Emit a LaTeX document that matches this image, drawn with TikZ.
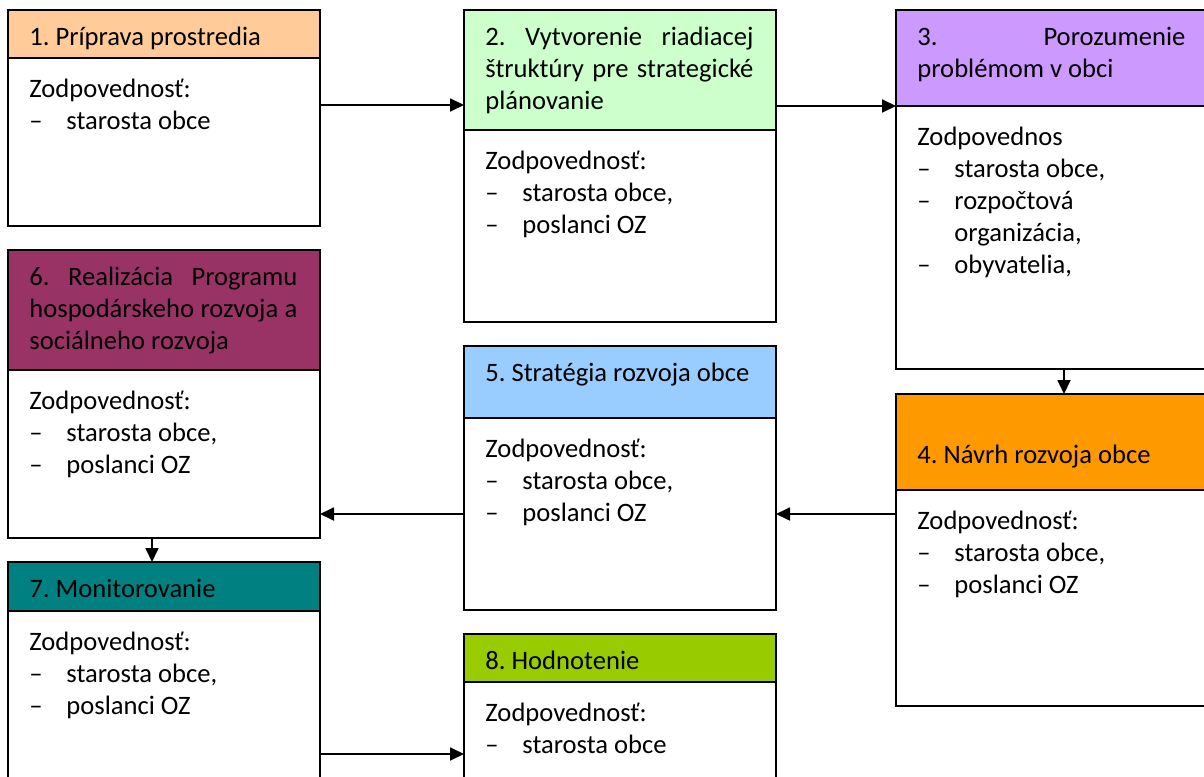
\documentclass[tikz,border=0pt]{standalone}
\usepackage{fontspec}
\setmainfont{Carlito}
\usetikzlibrary{arrows.meta}
\usetikzlibrary{positioning}

\frenchspacing

\definecolor{krok1}{HTML}{FFCC99}
\definecolor{krok2}{HTML}{CCFFCC}
\definecolor{krok3}{HTML}{CC99FF}
\definecolor{krok4}{HTML}{FF9900}
\definecolor{krok5}{HTML}{99CCFF}
\definecolor{krok6}{HTML}{993366}
\definecolor{krok7}{HTML}{008080}
\definecolor{krok8}{HTML}{99CC00}

% one line of the list: dash, then text; the second macro continues an item
\newcommand{\polozka}[1]{\par\noindent\makebox[18.5pt][l]{–}#1}
\newcommand{\pokracuj}[1]{\par\noindent\hspace*{18.5pt}#1}

\tikzset{
    hlava/.style={draw, line width=0.9pt, anchor=north west, minimum width=156pt, inner sep=0pt, outer sep=0pt},
    telo/.style={draw, line width=0.9pt, fill=white, minimum width=156pt, inner sep=0pt, outer sep=0pt},
    popis/.style={anchor=north west, inner sep=0pt, text width=134pt, font=\fontsize{13.3}{16}\selectfont},
    nadpis/.style={popis, align=justify},
    zoznam/.style={popis, align=flush left},
    sipka/.style={line width=0.9pt, -{Triangle[length=7pt,width=6.5pt]}}
}

\begin{document}
\begin{tikzpicture}[x=0.5pt, y=-0.5pt]
    \useasboundingbox (0,0) rectangle (1204,776);

    % 1
    \node[hlava, fill=krok1, minimum height=24pt] (h1) at (8,10) {};
    \node[telo, minimum height=84pt, below=0pt of h1] (b1) {};
    \node[nadpis] (t1h) at ([xshift=10.5pt,yshift=-6.3pt]h1.north west) {\strut 1. Príprava prostredia};
    \node[zoznam] (t1b) at ([xshift=10.5pt,yshift=-8.3pt]b1.north west) {\strut Zodpovednosť:\polozka{starosta obce}};

    % 2
    \node[hlava, fill=krok2, minimum height=60pt] (h2) at (464,10) {};
    \node[telo, minimum height=96pt, below=0pt of h2] (b2) {};
    \node[nadpis] (t2h) at ([xshift=10.5pt,yshift=-6.3pt]h2.north west) {\strut 2. Vytvorenie riadiacej\linebreak štruktúry pre strategické\linebreak plánovanie};
    \node[zoznam] (t2b) at ([xshift=10.5pt,yshift=-8.3pt]b2.north west) {\strut Zodpovednosť:\polozka{starosta obce,}\polozka{poslanci OZ}};

    % 3
    \node[hlava, fill=krok3, minimum height=48pt] (h3) at (896,10) {};
    \node[telo, minimum height=131.5pt, below=0pt of h3] (b3) {};
    \node[nadpis] (t3h) at ([xshift=10.5pt,yshift=-6.3pt]h3.north west) {\strut 3. Porozumenie\linebreak problémom v obci};
    \node[zoznam] (t3b) at ([xshift=10.5pt,yshift=-8.3pt]b3.north west) {\strut Zodpovednos\polozka{starosta obce,}\polozka{rozpočtová}\pokracuj{organizácia,}\polozka{obyvatelia,}};

    % 4
    \node[hlava, fill=krok4, minimum height=48pt] (h4) at (896,394) {};
    \node[telo, minimum height=108pt, below=0pt of h4] (b4) {};
    \node[nadpis] (t4h) at ([xshift=10.5pt,yshift=-7.3pt]h4.north west) {\strut\\4. Návrh rozvoja obce};
    \node[zoznam] (t4b) at ([xshift=10.5pt,yshift=-8.3pt]b4.north west) {\strut Zodpovednosť:\polozka{starosta obce,}\polozka{poslanci OZ}};

    % 5
    \node[hlava, fill=krok5, minimum height=36pt] (h5) at (464,346) {};
    \node[telo, minimum height=96pt, below=0pt of h5] (b5) {};
    \node[nadpis] (t5h) at ([xshift=10.5pt,yshift=-6.3pt]h5.north west) {\strut 5. Stratégia rozvoja obce};
    \node[zoznam] (t5b) at ([xshift=10.5pt,yshift=-8.3pt]b5.north west) {\strut Zodpovednosť:\polozka{starosta obce,}\polozka{poslanci OZ}};

    % 6
    \node[hlava, fill=krok6, minimum height=60pt] (h6) at (8,250) {};
    \node[telo, minimum height=84pt, below=0pt of h6] (b6) {};
    \node[nadpis] (t6h) at ([xshift=10.5pt,yshift=-6.3pt]h6.north west) {\strut 6. Realizácia Programu\linebreak hospodárskeho rozvoja a\linebreak sociálneho rozvoja};
    \node[zoznam] (t6b) at ([xshift=10.5pt,yshift=-8.3pt]b6.north west) {\strut Zodpovednosť:\polozka{starosta obce,}\polozka{poslanci OZ}};

    % 7
    \node[hlava, fill=krok7, minimum height=24.5pt] (h7) at (8,562) {};
    \node[telo, minimum height=95pt, below=0pt of h7] (b7) {};
    \node[nadpis] (t7h) at ([xshift=10.5pt,yshift=-6.3pt]h7.north west) {\strut 7. Monitorovanie};
    \node[zoznam] (t7b) at ([xshift=10.5pt,yshift=-8.3pt]b7.north west) {\strut Zodpovednosť:\polozka{starosta obce,}\polozka{poslanci OZ}};

    % 8
    \node[hlava, fill=krok8, minimum height=24pt] (h8) at (464,634) {};
    \node[telo, minimum height=59pt, below=0pt of h8] (b8) {};
    \node[nadpis] (t8h) at ([xshift=10.5pt,yshift=-6.3pt]h8.north west) {\strut 8. Hodnotenie};
    \node[zoznam] (t8b) at ([xshift=10.5pt,yshift=-8.3pt]b8.north west) {\strut Zodpovednosť:\polozka{starosta obce}};

    % arrows
    \draw[sipka] ([yshift=-23.5pt]b1.north east) -- ([yshift=-23.5pt]b1.north east -| h2.west);
    \draw[sipka] (h2.east |- h3.south west) -- (h3.south west);
    \draw[sipka] ([xshift=84pt]b3.south west) -- ([xshift=84pt]h4.north west);
    \draw[sipka] (b5.east -| b4.west) -- (b5.east);
    \draw[sipka] (b5.west) -- (b5.west -| b6.east);
    \draw[sipka] ([xshift=72pt]b6.south west) -- ([xshift=72pt]h7.north west);
    \draw[sipka] ([yshift=-36pt]b8.north west -| b7.east) -- ([yshift=-36pt]b8.north west);
\end{tikzpicture}
\end{document}
